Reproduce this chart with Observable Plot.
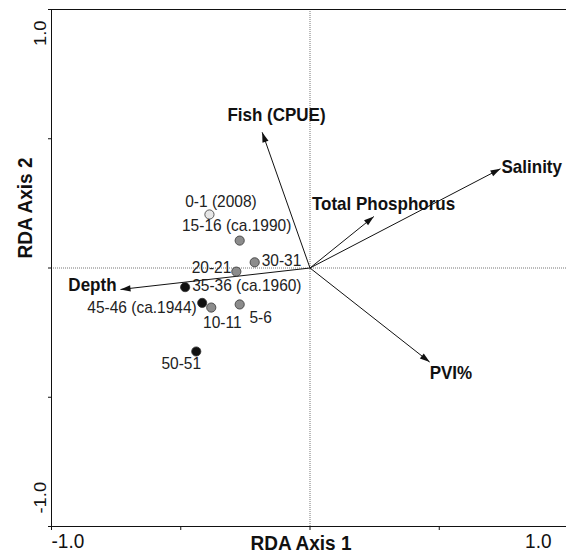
<!DOCTYPE html>
<html>
<head>
<meta charset="utf-8">
<script src="https://cdn.jsdelivr.net/npm/d3@7"></script>
<script src="https://cdn.jsdelivr.net/npm/@observablehq/plot@0.6"></script>
<style>
  html, body { margin: 0; padding: 0; background: #fff; overflow: hidden; }
</style>
</head>
<body>
<div id="chart"></div>
<script>
// ---- Data ----
const sampleNames = ["0-1 (2008)", "15-16 (ca.1990)", "30-31", "20-21", "35-36 (ca.1960)", "45-46 (ca.1944)", "10-11", "5-6", "50-51"];
const sampleAxis1 = [-0.389, -0.272, -0.214, -0.285, -0.483, -0.417, -0.382, -0.272, -0.440];
const sampleAxis2 = [0.207, 0.106, 0.022, -0.014, -0.074, -0.135, -0.153, -0.141, -0.323];
const sampleGroup = ["modern", "mid", "mid", "mid", "old", "old", "mid", "mid", "old"];

const variableNames = ["Fish (CPUE)", "Salinity", "Total Phosphorus", "PVI%", "Depth"];
const variableAxis1 = [-0.185, 0.737, 0.247, 0.463, -0.733];
const variableAxis2 = [0.525, 0.384, 0.199, -0.364, -0.083];

const axisTicks = [-1, -0.5, 0, 0.5, 1];
const axisEndLabels = [-1, 1];
const axisTitles = ["RDA Axis 1", "RDA Axis 2"];

// ---- Styles / label placement (kept apart from the data) ----
const groupFill = {modern: "#e6e6e6", mid: "#8c8c8c", old: "#111111"};
const sampleLabelPlacement = {
  "0-1 (2008)":      {anchor: "middle", dx: 11.5, dy: -12.5},
  "15-16 (ca.1990)": {anchor: "middle", dx: -3,   dy: -15},
  "30-31":           {anchor: "start",  dx: 7,    dy: -2},
  "20-21":           {anchor: "end",    dx: -5,   dy: -4},
  "35-36 (ca.1960)": {anchor: "start",  dx: 7,    dy: -1.5},
  "45-46 (ca.1944)": {anchor: "end",    dx: -5.5, dy: 4.5},
  "10-11":           {anchor: "middle", dx: 11,   dy: 15},
  "5-6":             {anchor: "middle", dx: 21,   dy: 13},
  "50-51":           {anchor: "middle", dx: -15,  dy: 12}
};
const variableLabelPlacement = {
  "Fish (CPUE)":      {anchor: "middle", dx: 14.3, dy: -16.7},
  "Salinity":         {anchor: "start",  dx: 1,    dy: -2},
  "Total Phosphorus": {anchor: "middle", dx: 9.7,  dy: -12},
  "PVI%":             {anchor: "start",  dx: 0,    dy: 11},
  "Depth":            {anchor: "end",    dx: -4,   dy: -4}
};

const samples = sampleNames.map((name, i) => ({name, x: sampleAxis1[i], y: sampleAxis2[i], group: sampleGroup[i]}));
const variables = variableNames.map((name, i) => ({name, x: variableAxis1[i], y: variableAxis2[i]}));

// filled arrowhead pointing along +x, tip at the origin
const arrowHead = {
  draw(ctx) {
    ctx.moveTo(0, 0);
    ctx.lineTo(-10, -3.2);
    ctx.lineTo(-10, 3.2);
    ctx.closePath();
  }
};

const fmt = d => d.toFixed(1);

const sampleLabelMarks = samples.map(d => {
  const p = sampleLabelPlacement[d.name];
  return Plot.text([d], {x: "x", y: "y", text: "name", textAnchor: p.anchor, dx: p.dx, dy: p.dy,
    fontSize: 15.5, fill: "#222"});
});
const variableLabelMarks = variables.map(d => {
  const p = variableLabelPlacement[d.name];
  return Plot.text([d], {x: "x", y: "y", text: "name", textAnchor: p.anchor, dx: p.dx, dy: p.dy,
    fontSize: 17, fontWeight: "bold", fill: "#111"});
});

const chart = Plot.plot({
  width: 566,
  height: 560,
  marginLeft: 51,
  marginRight: -2,
  marginTop: 9,
  marginBottom: 34,
  style: {fontFamily: "Arial, 'Liberation Sans', sans-serif", background: "#fff", color: "#111"},
  x: {domain: [-1, 1], axis: "bottom", ticks: axisTicks, tickSize: 4, tickFormat: () => "", label: null},
  y: {domain: [-1, 1], axis: "left", ticks: axisTicks, tickSize: 3, tickFormat: () => "", label: null},
  marks: [
    Plot.ruleX([0], {stroke: "#777", strokeDasharray: "1,1"}),
    Plot.ruleY([0], {stroke: "#777", strokeDasharray: "1,1"}),
    // box: left, top and bottom edges (the right edge falls outside the picture)
    Plot.ruleX([-1], {stroke: "#111"}),
    Plot.ruleY([-1, 1], {stroke: "#111"}),
    Plot.link(variables, {x1: 0, y1: 0, x2: "x", y2: "y", stroke: "#111", strokeWidth: 1}),
    Plot.dot(variables, {x: "x", y: "y", symbol: arrowHead, r: 4, fill: "#111", stroke: "none",
      rotate: d => Math.atan2(-d.y, d.x) * 180 / Math.PI}),
    Plot.dot(samples, {x: "x", y: "y", r: 4.6, fill: d => groupFill[d.group], stroke: "#333", strokeWidth: 0.8}),
    ...sampleLabelMarks,
    ...variableLabelMarks,
    // end tick labels on the x axis
    Plot.text(axisEndLabels.filter(v => v < 0), {x: d => d, text: fmt, frameAnchor: "bottom",
      textAnchor: "start", dy: 21, fontSize: 19, fill: "#111"}),
    Plot.text(axisEndLabels.filter(v => v > 0), {x: d => d, text: fmt, frameAnchor: "bottom",
      textAnchor: "end", dx: -17, dy: 21, fontSize: 19, fill: "#111"}),
    // end tick labels on the y axis (rotated)
    Plot.text(axisEndLabels.filter(v => v > 0), {y: d => d, text: fmt, frameAnchor: "left",
      rotate: -90, textAnchor: "end", dx: -11, dy: 11, fontSize: 17, fill: "#111", className: "along"}),
    Plot.text(axisEndLabels.filter(v => v < 0), {y: d => d, text: fmt, frameAnchor: "left",
      rotate: -90, textAnchor: "start", dx: -11, dy: -13, fontSize: 17, fill: "#111", className: "along"}),
    // axis titles
    Plot.text([axisTitles[0]], {text: d => d, frameAnchor: "bottom", dx: -9, dy: 23,
      fontSize: 19, fontWeight: "bold", fill: "#111"}),
    Plot.text([axisTitles[1]], {text: d => d, frameAnchor: "left", rotate: -90, dx: -26, dy: -9.5,
      fontSize: 19, fontWeight: "bold", fill: "#111"})
  ]
});

// The reference's lettering is slightly taller than it is wide: stretch glyphs vertically.
chart.querySelectorAll("text").forEach(t => {
  const tr = t.getAttribute("transform");
  if (!tr || !/translate/.test(tr)) return;
  const along = t.closest(".along") != null;
  if (/rotate/.test(tr)) {
    t.setAttribute("transform", tr + (along ? " scale(1.08,1)" : " scale(1,1.08)"));
  } else {
    t.setAttribute("transform", tr + " scale(1,1.08)");
  }
});

document.getElementById("chart").appendChild(chart);
</script>
</body>
</html>
